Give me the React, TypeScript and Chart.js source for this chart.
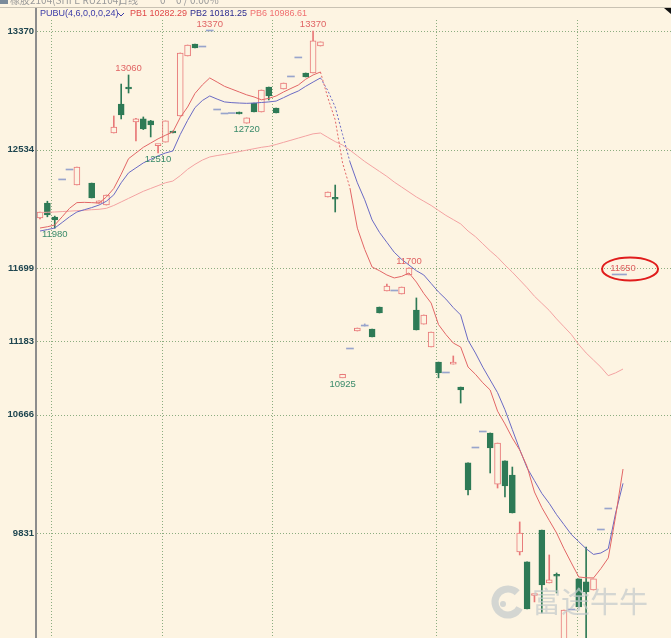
import React, { useEffect, useRef } from "react";
import { Chart, registerables } from "chart.js";
Chart.register(...registerables);

// ---- data (daily candles, index 0..79) ----
const opens: (number | null)[] = [
  12052, 12157, 12059, 12320, 12390, 12284, null, 12298, 12157, 12143,
  12651, 12855, 12968, 12729, 12750, 12736, 12562, 12587, 12665, 12771,
  13194, 13278, 13257, 13370, 12813, 12785, 12788, 12799, 12721, 12862,
  12799, 12975, 12827, 12961, 13046, 13180, 13074, 13074, 13264, 12200,
  12190, 10925, 11128, 11255, 11290, 11269, 11424, 11537, 11537, 11516,
  11650, 11403, 11304, 11142, 11036, 10959, 11022, 10860, 10325, 10430,
  10543, 10536, 10176, 10339, 10240, 9697, 9627, 9390, 9852, 9479,
  9530, 9000, 9288, 9507, 9486, 9429, 9852, 10000, 11650, 11650,
];
const highs: (number | null)[] = [
  12094, 12170, 12065, 12320, 12390, 12411, null, 12298, 12172, 12214,
  12771, 12996, 13060, 12755, 12764, 12740, 12568, 12736, 12665, 13215,
  13271, 13278, 13257, 13370, 12813, 12785, 12788, 12799, 12757, 12862,
  12954, 12975, 12827, 13003, 13046, 13180, 13074, 13370, 13293, 12235,
  12284, 10950, 11128, 11276, 11305, 11269, 11424, 11586, 11537, 11565,
  11700, 11488, 11368, 11248, 11036, 10959, 11079, 10860, 10325, 10430,
  10543, 10536, 10465, 10339, 10296, 9909, 9627, 9394, 9852, 9676,
  9549, 9288, 9288, 9507, 9732, 9507, 9852, 10000, 11650, 11650,
];
const lows: (number | null)[] = [
  12045, 12060, 11980, 12320, 12390, 12284, null, 12193, 12157, 12143,
  12651, 12750, 12933, 12595, 12675, 12623, 12510, 12587, 12651, 12771,
  13194, 13250, 13257, 13370, 12813, 12785, 12788, 12785, 12720, 12799,
  12799, 12884, 12792, 12961, 13046, 13180, 13046, 13074, 13264, 12200,
  12094, 10925, 11128, 11255, 11290, 11213, 11382, 11537, 11537, 11516,
  11650, 11262, 11304, 11142, 10925, 10959, 11022, 10747, 10099, 10430,
  10543, 10254, 10148, 10085, 9972, 9676, 9295, 9345, 9267, 9479,
  9408, 9000, 9288, 9309, 9000, 9429, 9852, 10000, 11650, 11650,
];
const closes: (number | null)[] = [
  12094, 12073, 12038, 12320, 12390, 12411, null, 12193, 12172, 12214,
  12693, 12778, 12961, 12750, 12679, 12707, 12568, 12736, 12651, 13215,
  13271, 13250, 13257, 13370, 12813, 12785, 12788, 12785, 12757, 12799,
  12954, 12912, 12792, 13003, 13046, 13180, 13046, 13300, 13293, 12235,
  12184, 10950, 11128, 11276, 11290, 11213, 11382, 11572, 11537, 11565,
  11699, 11262, 11368, 11248, 10959, 10959, 11036, 10839, 10134, 10430,
  10543, 10430, 10465, 10162, 9972, 9831, 9295, 9394, 9464, 9500,
  9526, 9288, 9288, 9309, 9415, 9507, 9852, 10000, 11650, 11650,
];

// PUBU lines
const pb1 = [
  11981, 11990, 12002, 12060, 12120, 12160, 12162, 12160, 12157, 12200,
  12260, 12360, 12470, 12510, 12550, 12580, 12610, 12635, 12658, 12760,
  12834, 12930, 12990, 13039, 13010, 12980, 12960, 12940, 12920, 12905,
  12885, 12895, 12912, 12940, 12965, 12989, 13030, 13060, 13081, 12900,
  12743, 12440, 12263, 11980, 11830, 11706, 11680, 11650, 11629, 11640,
  11664, 11600, 11520, 11452, 11300, 11230, 11170, 11142, 11001, 10950,
  10890, 10839, 10690, 10600, 10500, 10416, 10300, 10120, 10010, 9920,
  9831, 9720, 9620, 9521, 9515, 9514, 9580, 9655, 9950, 10282,
];
const pb2 = [
  11960, 11970, 11981, 12020, 12060, 12094, 12110, 12125, 12143, 12170,
  12215, 12300, 12370, 12405, 12440, 12465, 12490, 12510, 12524, 12640,
  12740, 12830, 12880, 12912, 12890, 12870, 12865, 12862, 12860, 12862,
  12866, 12870, 12876, 12900, 12925, 12947, 12980, 13010, 13039, 12950,
  12834, 12640, 12447, 12300, 12180, 12038, 11950, 11880, 11810, 11760,
  11720, 11680, 11650, 11590, 11530, 11480, 11420, 11368, 11190, 11100,
  11000, 10910, 10820, 10700, 10560, 10420, 10290, 10200, 10110, 10040,
  9960, 9890, 9820, 9770, 9720, 9680, 9690, 9720, 9972, 10181,
];
const pb6 = [
  12090, 12092, 12094, 12097, 12100, 12103, 12106, 12110, 12113, 12120,
  12140, 12165, 12190, 12215, 12240, 12260, 12280, 12300, 12312, 12350,
  12395, 12430, 12460, 12482, 12492, 12500, 12510, 12520, 12530, 12540,
  12550, 12557, 12570, 12585, 12600, 12615, 12630, 12645, 12651, 12620,
  12590, 12566, 12530, 12490, 12450, 12415, 12380, 12345, 12305, 12270,
  12235, 12200, 12170, 12140, 12105, 12070, 12040, 12010, 11960, 11920,
  11870, 11820, 11775, 11720, 11670, 11615, 11560, 11500, 11450, 11400,
  11340, 11285, 11230, 11160, 11100, 11050, 11000, 10940, 10960, 10987,
];
const gapFrom = 38;
const gapTo = 42;

const yTicks = [9831, 10666, 11183, 11699, 12534, 13370];
const monthBreaks = [1.5, 16.5, 31.5, 53.7, 72.8];

// marked extremes
const markIdx = [12, 2, 16, 28, 23, 37, 41, 50, 79];
const markText = ["13060", "11980", "12510", "12720", "13370", "13370", "10925", "11700", "11650"];
const markSide = ["high", "low", "low", "low", "high", "high", "low", "high", "high"];
const circledMark = 8;

const legendItems = ["PUBU(4,6,0,0,0,24)", "PB1 10282.29", "PB2 10181.25", "PB6 10986.61"];

const BG = "#fdf4e2";
const UP = "#e87878";
const DOWN = "#2e7a56";
const FLAT = "#98a4cc";
const GRID = "rgba(120,160,110,0.85)";

export default function App() {
  const ref = useRef<HTMLCanvasElement>(null);

  useEffect(() => {
    document.body.style.margin = "0";
    document.body.style.background = BG;
    const canvas = ref.current;
    if (!canvas) return;

    const all = opens.map((_, i) => i).filter((i) => opens[i] !== null);
    const kind = (i: number) =>
      (closes[i] as number) > (opens[i] as number) ? "up" : (closes[i] as number) < (opens[i] as number) ? "down" : "flat";
    const colorOf = (i: number) => (kind(i) === "up" ? UP : kind(i) === "down" ? DOWN : FLAT);
    const wickIdx = all.filter((i) => (highs[i] as number) > (lows[i] as number));
    const bodyIdx = all.filter((i) => kind(i) !== "flat");
    const flatIdx = all.filter((i) => kind(i) === "flat");

    const dashed = (ctx: any) =>
      ctx.p0DataIndex >= gapFrom && ctx.p1DataIndex <= gapTo ? [2, 2] : undefined;

    const gridPlugin = {
      id: "gridPlugin",
      beforeDatasetsDraw(chart: any) {
        const { ctx, chartArea, scales } = chart;
        ctx.save();
        ctx.strokeStyle = GRID;
        ctx.lineWidth = 1;
        ctx.setLineDash([1, 2]);
        yTicks.forEach((v) => {
          const y = Math.round(scales.y.getPixelForValue(v)) + 0.5;
          ctx.beginPath();
          ctx.moveTo(chartArea.left, y);
          ctx.lineTo(chartArea.right, y);
          ctx.stroke();
        });
        monthBreaks.forEach((v) => {
          const x = Math.round(scales.x.getPixelForValue(v)) + 0.5;
          ctx.beginPath();
          ctx.moveTo(x, chartArea.top);
          ctx.lineTo(x, chartArea.bottom);
          ctx.stroke();
        });
        ctx.restore();
      },
    };

    const overlayPlugin = {
      id: "overlayPlugin",
      afterDatasetsDraw(chart: any) {
        const { ctx, scales } = chart;
        ctx.save();
        ctx.font = "9.5px 'Liberation Sans', Arial, sans-serif";
        ctx.textAlign = "center";
        ctx.textBaseline = "middle";
        markIdx.forEach((i, k) => {
          const x = scales.x.getPixelForValue(i);
          const isHigh = markSide[k] === "high";
          const v = (isHigh ? highs[i] : lows[i]) as number;
          const y = scales.y.getPixelForValue(v) + (isHigh ? -6.5 : 6.5);
          ctx.fillStyle = isHigh ? "#e06464" : "#3a8a6a";
          ctx.fillText(markText[k], x, y);
          if (k === circledMark) {
            ctx.strokeStyle = "#e01c1c";
            ctx.lineWidth = 2;
            ctx.beginPath();
            ctx.ellipse(x + 7, y + 0.5, 28, 11.5, 0, 0, Math.PI * 2);
            ctx.stroke();
          }
        });
        // watermark
        ctx.fillStyle = "rgba(196,202,204,0.72)";
        ctx.strokeStyle = "rgba(196,202,204,0.72)";
        ctx.font = "29px 'Noto Sans CJK SC', sans-serif";
        ctx.textAlign = "left";
        ctx.textBaseline = "middle";
        ctx.fillText("富途牛牛", 532, 602);
        ctx.lineWidth = 7;
        ctx.beginPath();
        ctx.arc(508, 602, 13, Math.PI * 0.15, Math.PI * 1.75);
        ctx.stroke();
        ctx.beginPath();
        ctx.arc(503, 604, 3, 0, Math.PI * 2);
        ctx.fill();
        ctx.restore();
      },
      afterDraw(chart: any) {
        const { ctx, chartArea } = chart;
        ctx.save();
        // header (cut at top)
        ctx.fillStyle = "#9a9a9a";
        ctx.font = "10px 'Noto Sans CJK SC', sans-serif";
        ctx.textBaseline = "alphabetic";
        ctx.textAlign = "left";
        ctx.fillText("橡胶2104(SHFE RU2104)", 10, 4);
        ctx.fillText("日线", 118, 4);
        ctx.fillText("0", 160, 4);
        ctx.fillText("0 / 0.00%", 176, 4);
        ctx.fillStyle = "#7a8a9a";
        ctx.fillRect(0, 0, 8, 4);
        // separator
        ctx.fillStyle = "#c9c2b3";
        ctx.fillRect(0, 7, 671, 1);
        ctx.fillStyle = "#111";
        ctx.beginPath();
        ctx.moveTo(664, 8);
        ctx.lineTo(671, 8);
        ctx.lineTo(671, 14);
        ctx.closePath();
        ctx.fill();
        // y axis line
        ctx.fillStyle = "#8d8d8d";
        ctx.fillRect(chartArea.left - 2, 8, 2, chartArea.bottom - 8);
        // legend row
        ctx.font = "9px 'Liberation Sans', Arial, sans-serif";
        ctx.textBaseline = "middle";
        const colors = ["#3b3ba8", "#e04848", "#2c2c90", "#f07070"];
        const xs = [40, 130, 190, 250];
        legendItems.forEach((t, k) => {
          ctx.fillStyle = colors[k];
          ctx.fillText(t, xs[k], 14);
        });
        ctx.strokeStyle = "#3b3ba8";
        ctx.lineWidth = 1;
        ctx.beginPath();
        ctx.moveTo(118, 13);
        ctx.lineTo(121, 16);
        ctx.lineTo(124, 13);
        ctx.stroke();
        ctx.restore();
      },
    };

    const chart = new Chart(canvas, {
      type: "bar",
      data: {
        datasets: [
          {
            type: "line",
            data: pb1.map((v, i) => ({ x: i, y: v })),
            borderColor: "#e26666",
            borderWidth: 1,
            pointRadius: 0,
            tension: 0,
            segment: { borderDash: dashed },
            order: 0,
          } as any,
          {
            type: "line",
            data: pb2.map((v, i) => ({ x: i, y: v })),
            borderColor: "#6a6ac4",
            borderWidth: 1,
            pointRadius: 0,
            tension: 0,
            segment: { borderDash: dashed },
            order: 0,
          },
          {
            type: "line",
            data: pb6.map((v, i) => ({ x: i, y: v })),
            borderColor: "#f3a2a2",
            borderWidth: 1,
            pointRadius: 0,
            tension: 0,
            order: 1,
          },
          {
            type: "bar",
            data: bodyIdx.map((i) => ({ x: i, y: [opens[i], closes[i]] })),
            backgroundColor: bodyIdx.map((i) => (kind(i) === "up" ? BG : DOWN)),
            borderColor: bodyIdx.map((i) => (kind(i) === "up" ? UP : DOWN)),
            borderWidth: 1,
            borderSkipped: false,
            barThickness: 6,
            minBarLength: 2,
            grouped: false,
            order: 2,
          },
          {
            type: "bar",
            data: flatIdx.map((i) => ({ x: i, y: [opens[i], closes[i]] })),
            backgroundColor: FLAT,
            borderWidth: 0,
            barThickness: 7,
            minBarLength: 1,
            grouped: false,
            order: 2,
          },
          {
            type: "bar",
            data: wickIdx.map((i) => ({ x: i, y: [lows[i], highs[i]] })),
            backgroundColor: wickIdx.map(colorOf),
            borderWidth: 0,
            barThickness: 1,
            grouped: false,
            order: 3,
          },
        ] as any,
      },
      options: {
        responsive: false,
        maintainAspectRatio: false,
        animation: false,
        layout: { padding: { top: 20, left: 0, right: 0, bottom: 0 } },
        plugins: { legend: { display: false }, tooltip: { enabled: false } },
        scales: {
          x: { type: "linear", min: -0.4065, max: 85.5, display: false, offset: false },
          y: {
            min: 9090.65,
            max: 13447.55,
            position: "left",
            afterFit: (s: any) => {
              s.width = 37;
              s.paddingTop = 0;
              s.paddingBottom = 0;
            },
            afterBuildTicks: (s: any) => {
              s.ticks = yTicks.map((v) => ({ value: v }));
            },
            grid: { display: false, drawTicks: false },
            border: { display: false },
            ticks: {
              autoSkip: false,
              padding: 3,
              color: "#1f4650",
              font: { family: "'Liberation Sans', Arial, sans-serif", size: 9.5, weight: "bold" },
              callback: (v: any) => String(v),
            },
          },
        },
      } as any,
      plugins: [gridPlugin, overlayPlugin],
    });
    return () => chart.destroy();
  }, []);

  return (
    <div style={{ position: "relative", width: 671, height: 638, background: BG, overflow: "hidden" }}>
      <canvas ref={ref} width={671} height={638} style={{ display: "block" }} />
    </div>
  );
}
